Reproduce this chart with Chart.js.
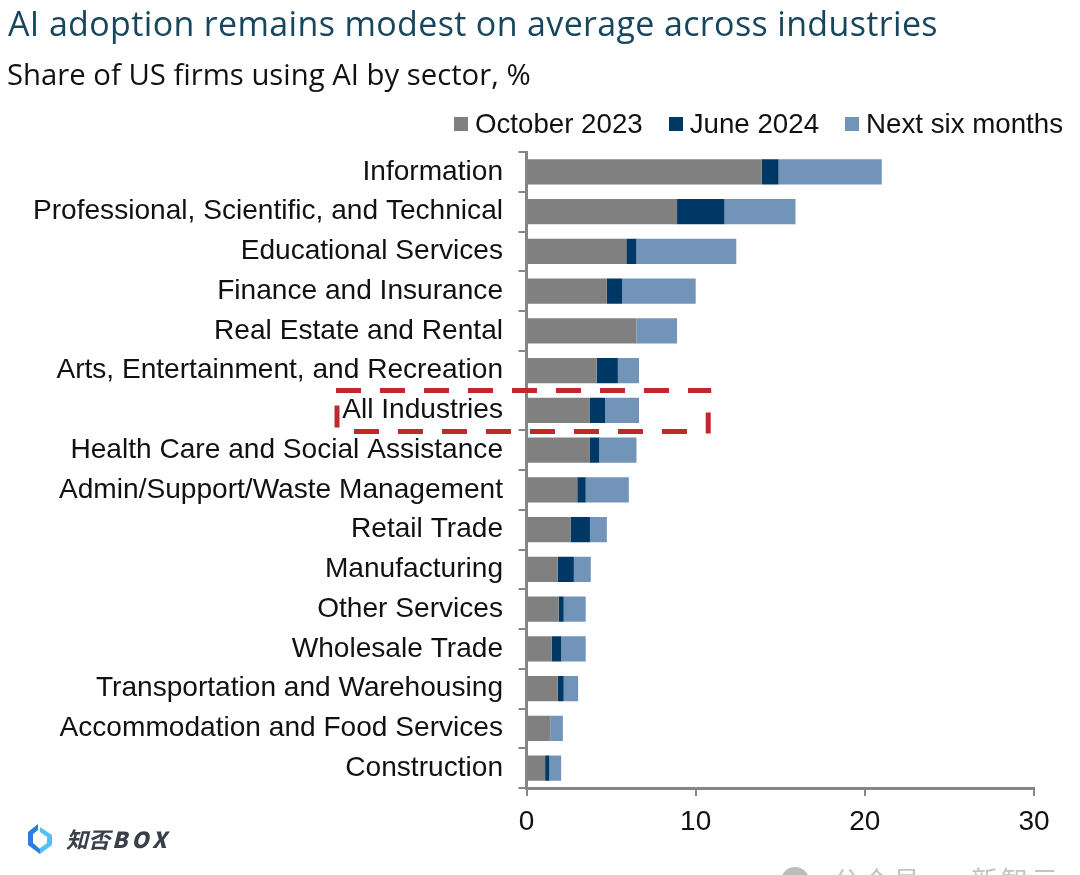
<!DOCTYPE html>
<html lang="en">
<head>
<meta charset="UTF-8">
<title>AI adoption by sector</title>
<script src="https://cdn.jsdelivr.net/npm/chart.js@4"></script>
<style>
  html, body { margin: 0; padding: 0; background: #fff; overflow: hidden; }
  #wrap { position: relative; width: 1080px; height: 875px; overflow: hidden; }
  #wrap canvas { position: absolute; left: 0; top: 0; }
  .title { position: absolute; left: 8px; top: 0px; font: 34px "Open Sans"; letter-spacing: 0.35px; color: #17475f; white-space: nowrap; }
  .subtitle { position: absolute; left: 7px; top: 54px; font: 29.3px "Open Sans"; color: #111; white-space: nowrap; }
  #legend { position: absolute; right: 17px; top: 108px; display: flex; font: 27.7px "Liberation Sans"; color: #111; white-space: nowrap; }
  #legend span.item { display: flex; align-items: center; margin-left: 26px; }
  #legend i { display: inline-block; width: 14px; height: 14px; margin-right: 7px; }
  .logo { position: absolute; left: 26px; top: 823px; }
  .brand { position: absolute; left: 66px; top: 822px; font: italic 700 22px "Noto Sans CJK SC"; color: #3a3f4b; white-space: nowrap; }
  .brand b { letter-spacing: 4px; margin-left: 2px; }
  .dot { position: absolute; left: 781px; top: 867px; width: 28px; height: 28px; border-radius: 50%; background: #bdbdbd; }
  .mark { position: absolute; left: 833px; top: 860px; font: 27px "Noto Sans CJK SC"; color: #c4c4c4; letter-spacing: 3px; white-space: nowrap; }
</style>
</head>
<body>
<div id="wrap">
  <canvas id="chart" width="1080" height="875"></canvas>
  <div class="title">AI adoption remains modest on average across industries</div>
  <div class="subtitle">Share of US firms using AI by sector, %</div>
  <div id="legend"></div>
  <svg class="logo" width="28" height="32" viewBox="0 0 28 32">
    <path d="M12 1 L2 9 V22 L14 31 L14 26 L7 20 V11 L12 7 Z" fill="#2f7be0"/>
    <path d="M14 4 L26 12 V22 L14 31 L14 25 L21 20 V14 L14 9 Z" fill="#4fc4f2"/>
  </svg>
  <div class="brand">知否<b>BOX</b></div>
  <div class="dot"></div>
  <div class="mark">公众号 · 新智元</div>
</div>

<script>
var categories = [
  "Information", "Professional, Scientific, and Technical", "Educational Services",
  "Finance and Insurance", "Real Estate and Rental", "Arts, Entertainment, and Recreation",
  "All Industries", "Health Care and Social Assistance", "Admin/Support/Waste Management",
  "Retail Trade", "Manufacturing", "Other Services", "Wholesale Trade",
  "Transportation and Warehousing", "Accommodation and Food Services", "Construction"
];
var seriesNames = ["October 2023", "June 2024", "Next six months"];
var seriesColors = ["#808080", "#003865", "#7294b8"];

var october2023 = [13.9, 8.9, 5.9, 4.75, 6.5, 4.15, 3.75, 3.75, 3.0, 2.6, 1.85, 1.9, 1.5, 1.85, 1.4, 1.1];
var june2024 = [1.0, 2.8, 0.6, 0.9, 0, 1.25, 0.9, 0.55, 0.5, 1.15, 0.95, 0.3, 0.55, 0.35, 0, 0.25];
var nextSixMonths = [6.1, 4.2, 5.9, 4.35, 2.4, 1.25, 2.0, 2.2, 2.55, 1.0, 1.0, 1.3, 1.45, 0.85, 0.75, 0.7];
var xTicks = [0, 10, 20, 30];

var allValues = [october2023, june2024, nextSixMonths];

// legend is built by hand, the box/text gap of the built-in one is too wide
var legendEl = document.getElementById("legend");
seriesNames.forEach(function (name, i) {
  var item = document.createElement("span");
  item.className = "item";
  item.innerHTML = '<i style="background:' + seriesColors[i] + '"></i>' + name;
  legendEl.appendChild(item);
});

// red dashed highlight round the "All Industries" row
var highlightBox = {
  id: "highlightBox",
  afterDraw: function (chart) {
    var ctx = chart.ctx;
    var x = chart.scales.x;
    var y = chart.scales.y;
    var row = y.getPixelForValue(categories.indexOf("All Industries"));
    var right = x.getPixelForValue(10.8);
    ctx.save();
    ctx.strokeStyle = "#c0282d";
    ctx.lineWidth = 5;
    ctx.setLineDash([25, 19]);
    ctx.beginPath();
    ctx.moveTo(336, row - 20);
    ctx.lineTo(right + 2, row - 20);
    ctx.moveTo(354, row + 21);
    ctx.lineTo(right - 4, row + 21);
    ctx.stroke();
    ctx.setLineDash([]);
    ctx.lineWidth = 5;
    ctx.beginPath();
    ctx.moveTo(337, row - 5);
    ctx.lineTo(337, row + 17);
    ctx.moveTo(right - 1, row + 2);
    ctx.lineTo(right - 1, row + 23);
    ctx.stroke();
    ctx.restore();
  }
};

new Chart(document.getElementById("chart"), {
  type: "bar",
  data: {
    labels: categories,
    datasets: allValues.map(function (vals, i) {
      return {
        label: seriesNames[i],
        data: vals,
        backgroundColor: seriesColors[i],
        categoryPercentage: 1,
        barPercentage: 0.635
      };
    })
  },
  options: {
    indexAxis: "y",
    responsive: false,
    animation: false,
    layout: { padding: { top: 152, right: 46, left: 0, bottom: 0 } },
    plugins: { legend: { display: false }, title: { display: false }, tooltip: { enabled: false } },
    scales: {
      x: {
        stacked: true,
        min: 0,
        max: 30,
        afterFit: function (axis) { axis.height = 87; },
        afterBuildTicks: function (axis) { axis.ticks = xTicks.map(function (v) { return { value: v }; }); },
        grid: { drawOnChartArea: false, color: "#868686", tickLength: 8, lineWidth: 2 },
        border: { color: "#868686", width: 3 },
        ticks: { color: "#111", font: { family: "Liberation Sans", size: 28 }, padding: 9, maxRotation: 0 }
      },
      y: {
        stacked: true,
        afterFit: function (axis) { axis.width = 526.5; },
        grid: { drawOnChartArea: false, offset: true, color: "#868686", tickLength: 8, lineWidth: 2 },
        border: { color: "#868686", width: 3 },
        ticks: { color: "#111", font: { family: "Liberation Sans", size: 28.1 }, padding: 15.5, autoSkip: false }
      }
    }
  },
  plugins: [highlightBox]
});
</script>
</body>
</html>
